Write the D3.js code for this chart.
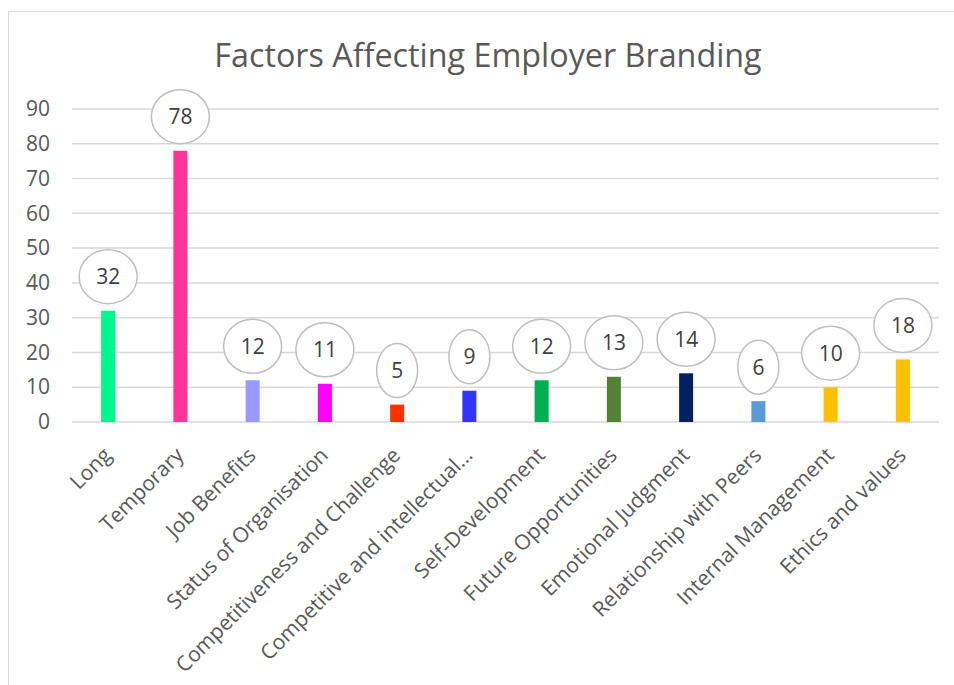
<!DOCTYPE html>
<html>
<head>
<meta charset="utf-8">
<script src="https://cdn.jsdelivr.net/npm/d3@7"></script>
<style>
  html, body { margin: 0; padding: 0; background: #ffffff; }
  svg { display: block; font-family: "Open Sans", sans-serif; }
</style>
</head>
<body>
<svg id="chart" width="954" height="685"></svg>
<script>
const title = "Factors Affecting Employer Branding";
const categories = [
  "Long", "Temporary", "Job Benefits", "Status of Organisation",
  "Competitiveness and Challenge", "Competitive and intellectual…",
  "Self-Development", "Future Opportunities", "Emotional Judgment",
  "Relationship with Peers", "Internal Management", "Ethics and values"
];
const values = [32, 78, 12, 11, 5, 9, 12, 13, 14, 6, 10, 18];
const colors = [
  "#00F78E", "#FF3399", "#9999FF", "#FF00FF",
  "#FF3300", "#3333FF", "#00B050", "#548235",
  "#002060", "#5B9BD5", "#FFC000", "#FFC000"
];
const yTicks = [0, 10, 20, 30, 40, 50, 60, 70, 80, 90];

const svg = d3.select("#chart");
const plot = { left: 72, right: 939, top: 109, bottom: 422 };

// outer border
svg.append("rect")
  .attr("x", 8.5).attr("y", 11.5)
  .attr("width", 1000).attr("height", 1000)
  .attr("fill", "#fff").attr("stroke", "#d9d9d9").attr("stroke-width", 1);

// title
svg.append("text")
  .attr("x", 488).attr("y", 67)
  .attr("text-anchor", "middle")
  .attr("font-size", 32.3)
  .attr("fill", "#595959")
  .text(title);

const x = d3.scaleBand()
  .domain(categories)
  .range([plot.left, plot.right])
  .paddingInner(0.806).paddingOuter(0.403);

const y = d3.scaleLinear().domain([0, 90]).range([plot.bottom, plot.top]);

// gridlines
svg.append("g").selectAll("line")
  .data(yTicks)
  .join("line")
  .attr("x1", plot.left).attr("x2", plot.right)
  .attr("y1", d => y(d)).attr("y2", d => y(d))
  .attr("stroke", "#d9d9d9").attr("stroke-width", 1.5);

// y axis labels
const yAxis = d3.axisLeft(y).tickValues(yTicks).tickSize(0).tickPadding(0);
const yg = svg.append("g").attr("transform", `translate(${plot.left - 22},0)`).call(yAxis);
yg.select(".domain").remove();
yg.selectAll("text")
  .attr("font-family", "Open Sans, sans-serif")
  .attr("font-size", 21)
  .attr("fill", "#595959");

// bars
svg.append("g").selectAll("rect")
  .data(values)
  .join("rect")
  .attr("x", (d, i) => x(categories[i]))
  .attr("width", x.bandwidth())
  .attr("y", d => y(d))
  .attr("height", d => y(0) - y(d))
  .attr("fill", (d, i) => colors[i]);

// x axis labels
const xAxis = d3.axisBottom(x).tickSize(0).tickPadding(0);
const xg = svg.append("g").attr("transform", `translate(0,${plot.bottom})`).call(xAxis);
xg.select(".domain").remove();
xg.selectAll("text")
  .attr("font-family", "Open Sans, sans-serif")
  .attr("font-size", 21)
  .attr("fill", "#595959")
  .attr("text-anchor", "end")
  .attr("dy", "0.71em")
  .attr("transform", "translate(-6,24) rotate(-45)");

// data labels (callout ellipses)
const lbl = svg.append("g").selectAll("g")
  .data(values)
  .join("g")
  .attr("transform", (d, i) => `translate(${x(categories[i]) + x.bandwidth() / 2},${y(d) - 34})`);
lbl.append("ellipse")
  .attr("rx", d => String(d).length > 1 ? 29 : 20.5)
  .attr("ry", 27)
  .attr("fill", "#fff")
  .attr("stroke", "#bfbfbf")
  .attr("stroke-width", 1.5);
lbl.append("text")
  .attr("text-anchor", "middle")
  .attr("dy", "0.36em")
  .attr("font-size", 21)
  .attr("fill", "#404040")
  .text(d => d);
</script>
</body>
</html>
